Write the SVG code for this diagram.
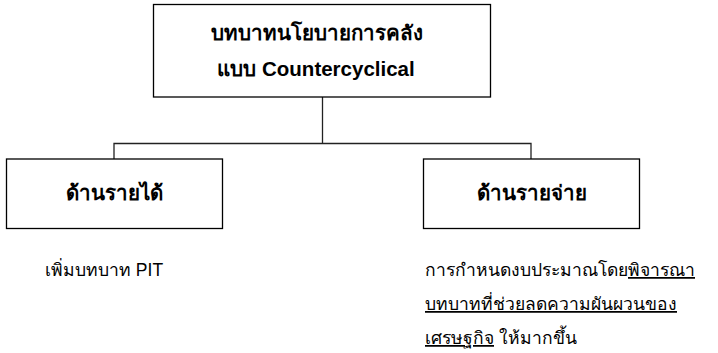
<svg xmlns="http://www.w3.org/2000/svg" width="718" height="353" viewBox="0 0 718 353">
<style>
.box{fill:#fff;stroke:#000;stroke-width:1.3}
.con{fill:none;stroke:#222;stroke-width:1.3}
text{font-family:"Liberation Sans",Arial,sans-serif;fill:#000}
.b{font-weight:bold;font-size:20.5px;text-anchor:middle}
.t{font-size:17.5px}
</style>
<rect width="718" height="353" fill="#fff"/>
<g id="connectors">
<path class="con" d="M322.5,97 V143.5 M114,159 V143.5 H531 V159"/>
</g>
<g id="top">
<rect class="box" x="153.5" y="4.5" width="337" height="92.5"/>
<text class="b" x="317" y="40">บทบาทนโยบายการคลัง</text>
<text class="b" x="316" y="76">แบบ Countercyclical</text>
</g>
<g id="revenue">
<rect class="box" x="6.5" y="159" width="216" height="69.5"/>
<text class="b" x="114" y="200">ด้านรายได้</text>
</g>
<g id="expenditure">
<rect class="box" x="423.5" y="159" width="216" height="69.5"/>
<text class="b" x="532" y="200">ด้านรายจ่าย</text>
</g>
<g id="revenue-note">
<text class="t" x="45" y="276">เพิ่มบทบาท PIT</text>
</g>
<g id="expenditure-note">
<text class="t" x="425" y="276">การกำหนดงบประมาณโดย<tspan text-decoration="underline">พิจารณา</tspan></text>
<text class="t" x="425" y="310" text-decoration="underline">บทบาทที่ช่วยลดความผันผวนของ</text>
<text class="t" x="425" y="344"><tspan text-decoration="underline">เศรษฐกิจ</tspan> ให้มากขึ้น</text>
</g>
</svg>
